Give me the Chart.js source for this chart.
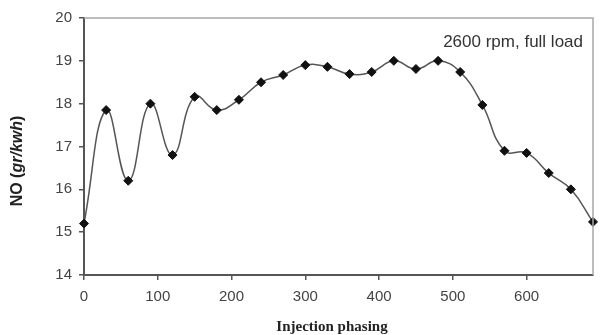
<!DOCTYPE html>
<html>
<head>
<meta charset="utf-8">
<script src="https://cdn.jsdelivr.net/npm/chart.js@4"></script>
<style>
  html, body { margin: 0; padding: 0; background: #fff; }
  #wrap { width: 605px; height: 335px; }
</style>
</head>
<body>
<div id="wrap"><canvas id="noChart"></canvas></div>
<script>
// injection phasing (x) and NO emission (y)
const phasing = [0, 30, 60, 90, 120, 150, 180, 210, 240, 270, 300, 330,
                 360, 390, 420, 450, 480, 510, 540, 570, 600, 630, 660, 690];
const noValues = [15.2, 17.85, 16.2, 18.0, 16.8, 18.16, 17.85, 18.09, 18.5, 18.67, 18.9, 18.86,
                  18.69, 18.74, 19.0, 18.81, 19.0, 18.74, 17.97, 16.9, 16.85, 16.38, 16.0, 15.24];
const xTicks = [0, 100, 200, 300, 400, 500, 600];
const yTicks = [14, 15, 16, 17, 18, 19, 20];
const noteText = "2600 rpm, full load";

// draws the frame, note and axis titles
const extras = {
    id: 'extras',
    afterDraw(chart) {
        const ctx = chart.ctx;
        const a = chart.chartArea;
        ctx.save();
        // light top/right frame
        ctx.strokeStyle = '#a8a8a8';
        ctx.lineWidth = 1.5;
        ctx.beginPath();
        ctx.moveTo(a.left, a.top);
        ctx.lineTo(a.right, a.top);
        ctx.lineTo(a.right, a.bottom);
        ctx.stroke();

        // note text
        ctx.fillStyle = '#333';
        ctx.font = '17px "Liberation Sans", Arial, sans-serif';
        ctx.textAlign = 'right';
        ctx.textBaseline = 'middle';
        ctx.fillText(noteText, a.right - 10, 42);

        // x title
        ctx.fillStyle = '#222';
        ctx.font = 'bold 15px "Liberation Serif", "DejaVu Serif", serif';
        ctx.textAlign = 'center';
        ctx.fillText('Injection phasing', 332, 327);

        // y title with italic unit
        ctx.translate(18, 161);
        ctx.rotate(-Math.PI / 2);
        const parts = [
            ['NO (', 'bold 16px "Liberation Sans", Arial, sans-serif'],
            ['gr/kwh', 'italic bold 16px "Liberation Sans", Arial, sans-serif'],
            [')', 'bold 16px "Liberation Sans", Arial, sans-serif']
        ];
        let total = 0;
        parts.forEach(p => { ctx.font = p[1]; total += ctx.measureText(p[0]).width; });
        let x = -total / 2;
        ctx.textAlign = 'left';
        parts.forEach(p => {
            ctx.font = p[1];
            ctx.fillText(p[0], x, 0);
            x += ctx.measureText(p[0]).width;
        });
        ctx.restore();
    }
};

const ctx = document.getElementById('noChart').getContext('2d');
new Chart(ctx, {
    type: 'line',
    data: {
        labels: phasing,
        datasets: [{
            label: 'NO',
            data: phasing.map((p, i) => ({ x: p, y: noValues[i] })),
            borderColor: '#555',
            borderWidth: 1.5,
            tension: 0.45,
            pointStyle: 'rectRot',
            pointRadius: 4.5,
            pointBackgroundColor: '#111',
            pointBorderColor: '#111',
            pointBorderWidth: 1,
            clip: false
        }]
    },
    options: {
        responsive: true,
        maintainAspectRatio: false,
        animation: false,
        layout: { padding: { top: 18, right: 12, left: 0, bottom: 0 } },
        plugins: { legend: { display: false }, tooltip: { enabled: false } },
        scales: {
            x: {
                type: 'linear',
                min: 0,
                max: 690,
                afterBuildTicks: s => { s.ticks = xTicks.map(v => ({ value: v })); },
                afterFit: s => { s.height = 60; },
                grid: { drawOnChartArea: false, tickLength: 5, color: '#555', lineWidth: 1.5 },
                border: { color: '#555', width: 2 },
                ticks: {
                    color: '#444',
                    padding: 8,
                    font: { family: '"Liberation Sans", Arial, sans-serif', size: 15 }
                }
            },
            y: {
                min: 14,
                max: 20,
                afterBuildTicks: s => { s.ticks = yTicks.map(v => ({ value: v })); },
                afterFit: s => { s.width = 84; },
                grid: { drawOnChartArea: false, tickLength: 5, color: '#555', lineWidth: 1.5 },
                border: { color: '#555', width: 2 },
                ticks: {
                    color: '#444',
                    padding: 7,
                    font: { family: '"Liberation Sans", Arial, sans-serif', size: 15 }
                }
            }
        }
    },
    plugins: [extras]
});
</script>
</body>
</html>
